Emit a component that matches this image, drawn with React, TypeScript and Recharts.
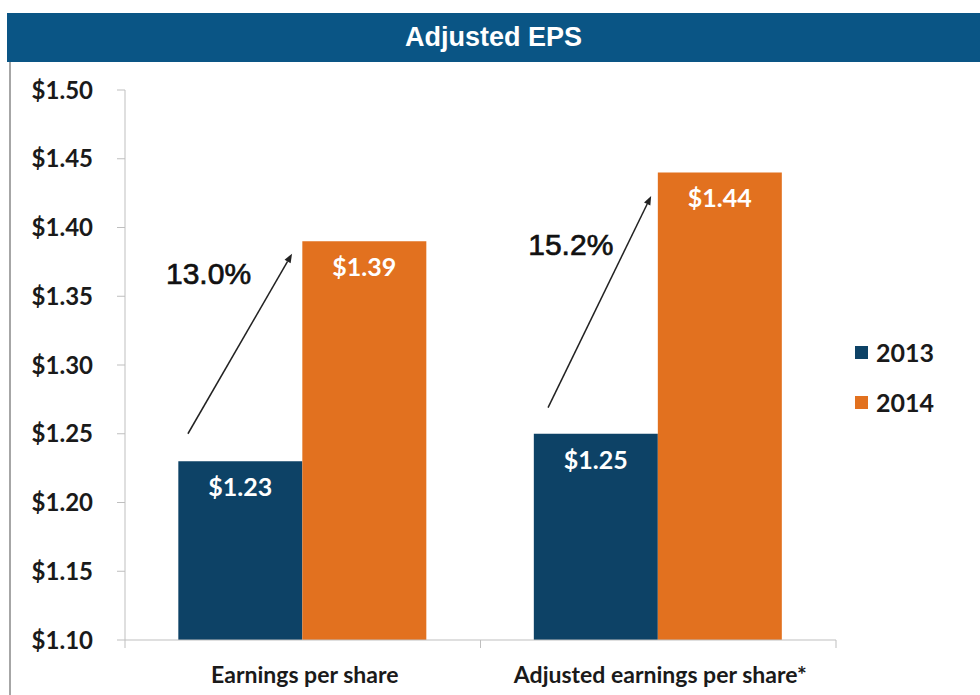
import { BarChart, Bar, XAxis, YAxis, LabelList, ReferenceLine, ReferenceDot } from 'recharts'

// ── Data ──────────────────────────────────────────────────────────────────────

const CATEGORIES = ['Earnings per share', 'Adjusted earnings per share*']
const EPS_2013 = [1.23, 1.25]
const EPS_2014 = [1.39, 1.44]
const Y_TICKS = [1.1, 1.15, 1.2, 1.25, 1.3, 1.35, 1.4, 1.45, 1.5]
const GROWTH = ['13.0%', '15.2%']
const SERIES_NAMES = ['2013', '2014']

// growth arrows, in chart units (x: category band 0..2, y: dollars)
const ARROW_FROM = [{ x: 0.177, y: 1.25 }, { x: 1.19, y: 1.269 }]
const ARROW_TO = [{ x: 0.47, y: 1.381 }, { x: 1.48, y: 1.423 }]
const GROWTH_AT = [{ x: 0.235, y: 1.367 }, { x: 1.254, y: 1.388 }]

const data = CATEGORIES.map((name, i) => ({ name, pos: i + 0.5, y2013: EPS_2013[i], y2014: EPS_2014[i] }))

// ── Style tokens ──────────────────────────────────────────────────────────────

const NAVY = '#0D4266'
const ORANGE = '#E2711F'
const HEADER = '#0A5585'
const AXIS = '#BFBFBF'
const FONT = 'Lato, "Open Sans", sans-serif'
const ARIAL = '"Liberation Sans", Arial, sans-serif'

const fmtUsd = (v: number) => `$${v.toFixed(2)}`

// ── Pieces ────────────────────────────────────────────────────────────────────

function CategoryTick(props: any) {
  const { x, y, payload, index, visibleTicksCount } = props
  const half = payload?.offset ?? 177.75
  const last = index === (visibleTicksCount ?? CATEGORIES.length) - 1
  return (
    <g>
      <line x1={x - half} x2={x - half} y1={y} y2={y + 8} stroke={AXIS} />
      {last && <line x1={x + half} x2={x + half} y1={y} y2={y + 8} stroke={AXIS} />}
      <text x={x + 2} y={y + 43} textAnchor="middle" fill="#1a1a1a" fontSize={23} fontWeight="bold" fontFamily={FONT}>
        {payload.value}
      </text>
    </g>
  )
}

function Arrow(props: any) {
  const { x1, y1, x2, y2 } = props
  const ang = Math.atan2(y2 - y1, x2 - x1)
  const len = 9
  const w = 3.5
  const bx = x2 - len * Math.cos(ang)
  const by = y2 - len * Math.sin(ang)
  const px = -Math.sin(ang) * w
  const py = Math.cos(ang) * w
  return (
    <g>
      <line x1={x1} y1={y1} x2={bx} y2={by} stroke="#222" strokeWidth={1.5} />
      <polygon points={`${x2},${y2} ${bx + px},${by + py} ${bx - px},${by - py}`} fill="#222" />
    </g>
  )
}

function LegendBox() {
  const colors = [NAVY, ORANGE]
  return (
    <div style={{ position: 'absolute', left: 855, top: 327, fontFamily: FONT }}>
      {SERIES_NAMES.map((label, i) => (
        <div key={label} style={{ display: 'flex', alignItems: 'center', height: 50 }}>
          <span style={{ width: 13, height: 13, background: colors[i], marginRight: 8 }} />
          <span style={{ fontSize: 25, fontWeight: 'bold', color: '#1a1a1a' }}>{label}</span>
        </div>
      ))}
    </div>
  )
}

// ── App ───────────────────────────────────────────────────────────────────────

export default function App() {
  return (
    <div style={{ position: 'fixed', left: 0, top: 0, width: 980, height: 695, background: '#fff', overflow: 'hidden' }}>
      <BarChart
        width={980}
        height={695}
        data={data}
        margin={{ top: 90, right: 144, left: 15, bottom: 0 }}
        barCategoryGap="15%"
        barGap={0}
      >
        <XAxis
          dataKey="name"
          height={55}
          tickLine={false}
          tickSize={0}
          tickMargin={0}
          axisLine={{ stroke: AXIS }}
          tick={<CategoryTick />}
          interval={0}
        />
        <XAxis xAxisId="n" dataKey="pos" type="number" domain={[0, 2]} hide allowDataOverflow />
        <YAxis
          type="number"
          domain={[1.1, 1.5]}
          ticks={Y_TICKS}
          allowDataOverflow
          tickFormatter={fmtUsd}
          width={110}
          tickSize={8}
          tickMargin={24}
          axisLine={{ stroke: AXIS }}
          tickLine={{ stroke: AXIS }}
          tick={{ fill: '#1a1a1a', fontSize: 24, fontWeight: 'bold', fontFamily: FONT }}
        />
        <Bar dataKey="y2013" name={SERIES_NAMES[0]} fill={NAVY} isAnimationActive={false}>
          <LabelList
            dataKey="y2013"
            position="insideTop"
            offset={17}
            formatter={(v: any) => fmtUsd(Number(v))}
            fill="#fff"
            fontSize={25}
            fontWeight="bold"
            fontFamily={FONT}
          />
        </Bar>
        <Bar dataKey="y2014" name={SERIES_NAMES[1]} fill={ORANGE} isAnimationActive={false}>
          <LabelList
            dataKey="y2014"
            position="insideTop"
            offset={17}
            formatter={(v: any) => fmtUsd(Number(v))}
            fill="#fff"
            fontSize={25}
            fontWeight="bold"
            fontFamily={FONT}
          />
        </Bar>
        {ARROW_FROM.map((from, i) => (
          <ReferenceLine
            key={`arrow-${i}`}
            xAxisId="n"
            segment={[from, ARROW_TO[i]]}
            ifOverflow="visible"
            shape={(p: any) => <Arrow {...p} />}
          />
        ))}
        {GROWTH_AT.map((pt, i) => (
          <ReferenceDot
            key={`growth-${i}`}
            xAxisId="n"
            x={pt.x}
            y={pt.y}
            r={0}
            ifOverflow="visible"
            fill="none"
            stroke="none"
            label={{
              value: GROWTH[i],
              position: 'center',
              fill: '#111',
              stroke: '#111',
              strokeWidth: 0.7,
              fontSize: 30,
              fontFamily: ARIAL,
            }}
          />
        ))}
      </BarChart>
      <LegendBox />
      <div
        style={{
          position: 'absolute',
          left: 7,
          top: 13,
          width: 973,
          height: 49,
          background: HEADER,
          color: '#fff',
          fontFamily: ARIAL,
          fontWeight: 'bold',
          fontSize: 27,
          display: 'flex',
          alignItems: 'center',
          justifyContent: 'center',
        }}
      >
        Adjusted EPS
      </div>
      <div style={{ position: 'absolute', left: 9, top: 62, width: 2, height: 640, background: '#A6A6A6' }} />
    </div>
  )
}
